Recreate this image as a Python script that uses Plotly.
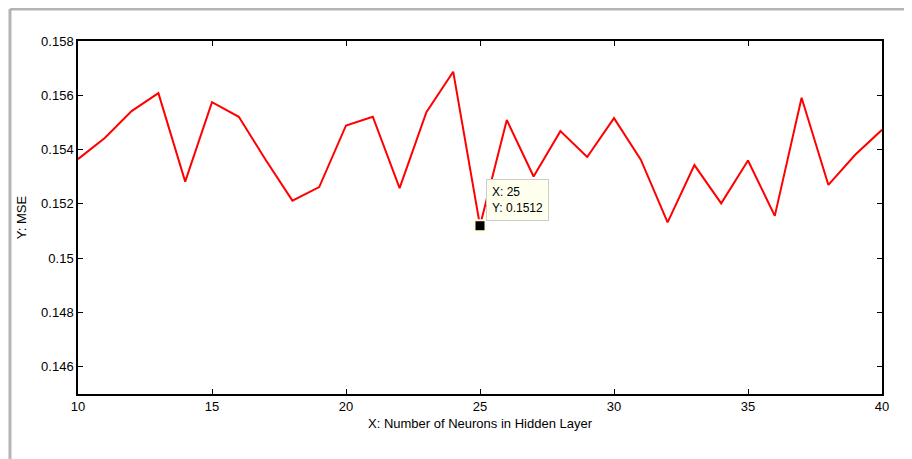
import plotly.graph_objects as go

neurons = list(range(10, 41))
mse = [0.15365, 0.15443, 0.15542, 0.15608, 0.15282, 0.15575, 0.15521, 0.15363,
       0.15212, 0.15262, 0.15489, 0.15521, 0.15258, 0.15538, 0.15687, 0.1512,
       0.15509, 0.15301, 0.15468, 0.15373, 0.15516, 0.15363, 0.15132, 0.15343,
       0.15202, 0.1536, 0.15156, 0.15591, 0.1527, 0.15381, 0.15473]
y_ticks = [0.146, 0.148, 0.150, 0.152, 0.154, 0.156, 0.158]
y_tick_text = ["0.146", "0.148", "0.15", "0.152", "0.154", "0.156", "0.158"]
x_ticks = [10, 15, 20, 25, 30, 35, 40]
tip_x = 25
tip_y = 0.1512

FONT = "Liberation Sans, Arial"

fig = go.Figure()
fig.add_trace(go.Scatter(x=neurons, y=mse, mode="lines",
                         line=dict(color="#ff0000", width=2), showlegend=False))
fig.add_trace(go.Scatter(x=[tip_x], y=[tip_y], mode="markers",
                         marker=dict(symbol="square", size=11, color="black",
                                     line=dict(color="#ffffdd", width=2)),
                         showlegend=False))

fig.add_annotation(x=tip_x, y=tip_y, xref="x", yref="y",
                   text=f"X: {tip_x}<br>Y: {tip_y}", showarrow=False,
                   xanchor="left", yanchor="bottom", xshift=6, yshift=5,
                   align="left", bgcolor="#ffffee", bordercolor="#cccccc",
                   borderwidth=1, borderpad=5,
                   font=dict(family=FONT, size=12, color="black"))

axis_common = dict(showline=True, linecolor="black", linewidth=1.5, mirror="allticks",
                   ticks="inside", ticklen=5, tickcolor="black", tickwidth=1,
                   showgrid=False, zeroline=False,
                   tickfont=dict(family=FONT, size=13, color="black"))

fig.update_xaxes(range=[10, 40], tickvals=x_ticks,
                 title=dict(text="X: Number of Neurons in Hidden Layer", standoff=6,
                            font=dict(family=FONT, size=13, color="black")),
                 **axis_common)
fig.update_yaxes(range=[0.145, 0.158], tickvals=y_ticks, ticktext=y_tick_text,
                 title=dict(text="Y: MSE", standoff=12,
                            font=dict(family=FONT, size=13, color="black")),
                 **axis_common)

# figure frame (top and left edges)
fig.add_shape(type="line", xref="paper", yref="paper", x0=-0.0846, x1=1.06,
              y0=1.0907, y1=1.0907, line=dict(color="#b4b4b4", width=3))
fig.add_shape(type="line", xref="paper", yref="paper", x0=-0.0846, x1=-0.0846,
              y0=1.0907, y1=-0.25, line=dict(color="#b4b4b4", width=3))

fig.update_layout(width=904, height=451, margin=dict(l=70, r=30, t=33, b=65),
                  plot_bgcolor="white", paper_bgcolor="white",
                  font=dict(family=FONT, color="black"))

fig.write_html("out.html")
